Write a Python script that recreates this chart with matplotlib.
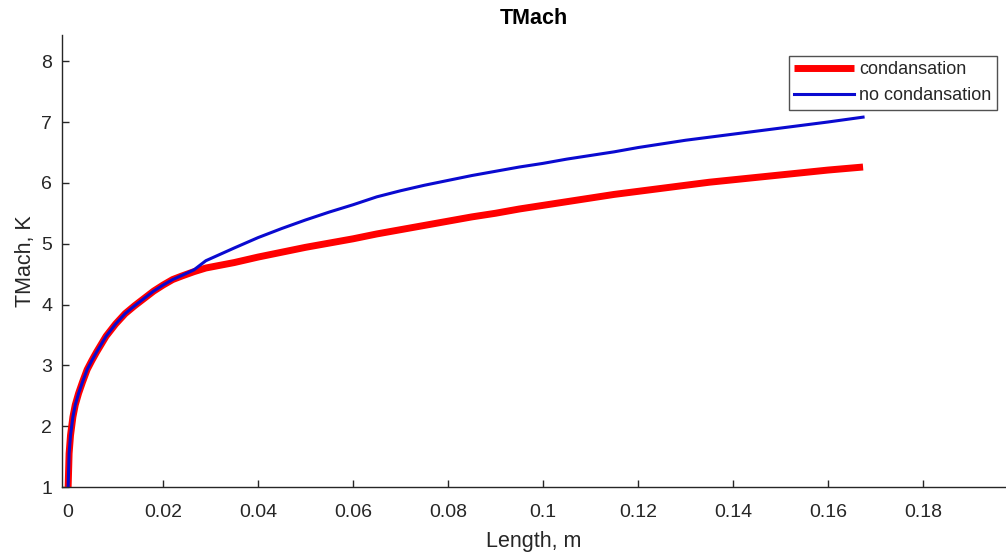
import matplotlib
matplotlib.use("Agg")
import matplotlib.pyplot as plt

plt.rcParams['font.family'] = ['Liberation Sans', 'DejaVu Sans']

# Length along the channel, m
length = [0, 0.0002, 0.0005, 0.001, 0.0015, 0.0022, 0.003, 0.004, 0.005,
          0.006, 0.007, 0.008, 0.009, 0.010, 0.012, 0.014, 0.016, 0.018,
          0.020, 0.022, 0.024, 0.0265, 0.029, 0.035, 0.040, 0.045, 0.050,
          0.055, 0.060, 0.065, 0.070, 0.075, 0.080, 0.085, 0.090, 0.095,
          0.100, 0.105, 0.110, 0.115, 0.120, 0.125, 0.130, 0.135, 0.140,
          0.145, 0.150, 0.155, 0.160, 0.1674]

# TMach with condensation
tmach_cond = [1.0, 1.55, 1.85, 2.15, 2.35, 2.54, 2.72, 2.93, 3.08,
              3.22, 3.35, 3.48, 3.58, 3.68, 3.85, 3.98, 4.10, 4.22,
              4.32, 4.41, 4.47, 4.54, 4.60, 4.69, 4.78, 4.86, 4.94,
              5.01, 5.08, 5.16, 5.23, 5.30, 5.37, 5.44, 5.50, 5.57,
              5.63, 5.69, 5.75, 5.81, 5.86, 5.91, 5.96, 6.01, 6.05,
              6.09, 6.13, 6.17, 6.21, 6.26]

# TMach without condensation
tmach_nocond = [1.0, 1.55, 1.85, 2.15, 2.35, 2.54, 2.72, 2.93, 3.08,
                3.22, 3.35, 3.48, 3.58, 3.68, 3.85, 3.98, 4.10, 4.22,
                4.32, 4.41, 4.48, 4.57, 4.72, 4.93, 5.10, 5.25, 5.39,
                5.52, 5.64, 5.77, 5.87, 5.96, 6.04, 6.12, 6.19, 6.26,
                6.32, 6.39, 6.45, 6.51, 6.58, 6.64, 6.70, 6.75, 6.80,
                6.85, 6.90, 6.95, 7.00, 7.08]

x_ticks = [0, 0.02, 0.04, 0.06, 0.08, 0.1, 0.12, 0.14, 0.16, 0.18]
x_tick_labels = ['0', '0.02', '0.04', '0.06', '0.08', '0.1', '0.12', '0.14', '0.16', '0.18']
y_ticks = [1, 2, 3, 4, 5, 6, 7, 8]

axis_color = '#262626'

fig = plt.figure(figsize=(10.06, 5.54), dpi=100)
ax = fig.add_axes([0.0616, 0.1209, 1 - 0.0616, 0.8159])

ax.plot(length, tmach_cond, color='#ff0000', linewidth=5.0, label='condansation',
        solid_capstyle='butt', solid_joinstyle='round')
ax.plot(length, tmach_nocond, color='#0a0ad0', linewidth=2.2, label='no condansation',
        solid_joinstyle='round')

ax.set_xlim(-0.0013, 0.1975)
ax.set_ylim(1, 8.43)
ax.set_xticks(x_ticks)
ax.set_xticklabels(x_tick_labels)
ax.set_yticks(y_ticks)

for side in ('top', 'right'):
    ax.spines[side].set_visible(False)
for side in ('left', 'bottom'):
    ax.spines[side].set_color(axis_color)
    ax.spines[side].set_linewidth(1.0)

ax.tick_params(axis='both', direction='in', length=5, width=1.0,
               colors=axis_color, labelsize=14)
ax.tick_params(axis='x', pad=12)
ax.tick_params(axis='y', pad=7)

ax.set_xlabel('Length, m', fontsize=15.5, color=axis_color, labelpad=7.5)
ax.set_ylabel('TMach, K', fontsize=15.5, color=axis_color, labelpad=4)
ax.set_title('TMach', fontsize=15.5, fontweight='bold', color='black', pad=8)

leg = ax.legend(loc='upper right', bbox_to_anchor=(0.9905, 0.9535), fontsize=13,
                frameon=True, fancybox=False, handlelength=3.3, handletextpad=0.3,
                borderpad=0.3, labelspacing=0.5, borderaxespad=0)
leg.get_frame().set_edgecolor(axis_color)
leg.get_frame().set_linewidth(1.0)
for t in leg.get_texts():
    t.set_color(axis_color)

fig.savefig('out.png', dpi=100)
